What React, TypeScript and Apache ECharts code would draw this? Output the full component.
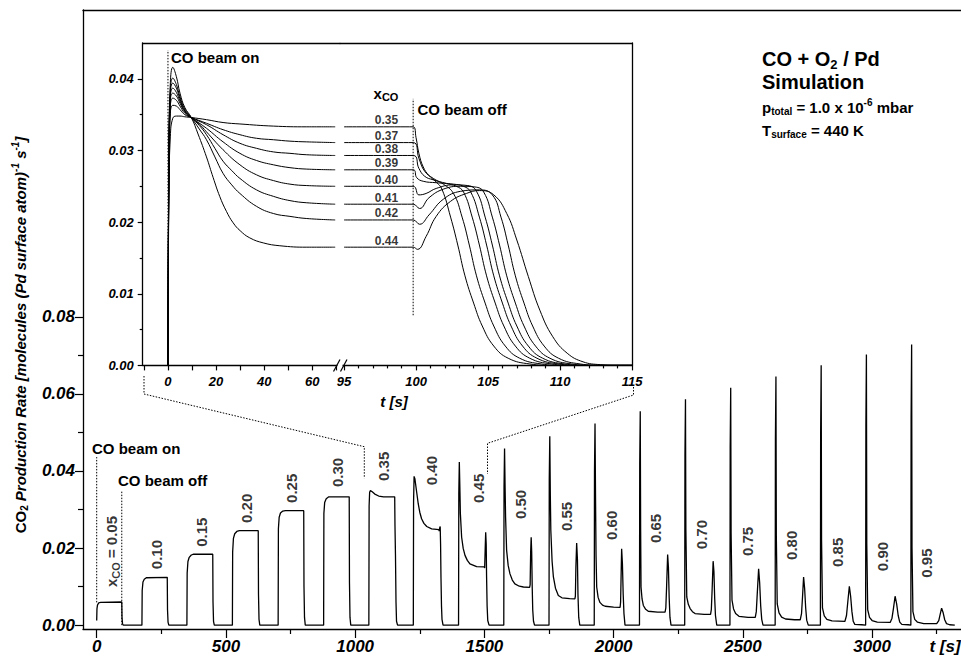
import React, { useEffect, useRef } from 'react';
import * as echarts from 'echarts';

const FONT = "'Liberation Sans', Arial, Helvetica, sans-serif";
const BLACK = '#000';

// ---------- main chart: simulated CO2 rate for successive CO pulses ----------
const mainXTicks = [0, 500, 1000, 1500, 2000, 2500, 3000];
const mainXMinor = [250, 750, 1250, 1750, 2250, 2750, 3250];
const mainYTicks = [0, 0.02, 0.04, 0.06, 0.08];
const mainYMinor = [0.01, 0.03, 0.05, 0.07];

const mainPulses: number[][][] = [
  // 0.05
  [[0, 0.0012], [1, 0.0042], [3, 0.0052], [8, 0.0058], [15, 0.0059], [97, 0.006], [98, 0.002], [100, 0.0003], [103, 0]],
  // 0.10
  [[175, 0], [176, 0.009], [179, 0.0112], [184, 0.0119], [192, 0.0123], [273, 0.0124], [274, 0.004], [276, 0.0008], [279, 0]],
  // 0.15
  [[349, 0], [350, 0.0135], [353, 0.0165], [358, 0.0176], [366, 0.0182], [375, 0.0184], [449, 0.0184], [450, 0.006], [452, 0.001], [455, 0]],
  // 0.20
  [[525, 0], [526, 0.019], [529, 0.0225], [534, 0.0237], [542, 0.0243], [552, 0.0245], [625, 0.0245], [626, 0.008], [628, 0.0015], [631, 0]],
  // 0.25
  [[702, 0], [703, 0.025], [706, 0.028], [711, 0.0291], [720, 0.0296], [730, 0.0297], [801, 0.0297], [802, 0.01], [804, 0.002], [807, 0]],
  // 0.30
  [[878, 0], [879, 0.029], [882, 0.0318], [888, 0.0328], [898, 0.0333], [977, 0.0333], [978, 0.011], [980, 0.002], [983, 0]],
  // 0.35
  [[1053, 0], [1054, 0.031], [1056, 0.0345], [1059, 0.0349], [1066, 0.0346], [1076, 0.034], [1091, 0.0335], [1110, 0.0333], [1153, 0.0333], [1154, 0.026], [1156, 0.018], [1158, 0.006], [1160, 0.001], [1164, 0]],
  // 0.40
  [[1225, 0], [1226, 0.032], [1228, 0.0386], [1231, 0.038], [1237, 0.035], [1244, 0.0315], [1250, 0.0293], [1257, 0.0276], [1266, 0.0264], [1277, 0.0256], [1296, 0.025], [1324, 0.0248], [1325, 0.0244], [1327, 0.0252], [1329, 0.0256], [1330.5, 0.021], [1332, 0.0125], [1334, 0.005], [1336, 0.0015], [1340, 0]],
  // 0.45
  [[1400, 0], [1401, 0.034], [1403, 0.0423], [1405, 0.036], [1407, 0.029], [1412, 0.0228], [1418, 0.0199], [1425, 0.0181], [1434, 0.0168], [1444, 0.0159], [1470, 0.0152], [1500, 0.0151], [1501, 0.0148], [1503, 0.0195], [1505, 0.0241], [1507, 0.021], [1508.5, 0.0125], [1510.5, 0.005], [1513, 0.0012], [1518, 0]],
  // 0.50
  [[1575, 0], [1576, 0.036], [1578, 0.0458], [1580, 0.036], [1582, 0.028], [1586, 0.0194], [1592, 0.0155], [1599, 0.0133], [1608, 0.0117], [1618, 0.0107], [1635, 0.0101], [1651, 0.0099], [1675, 0.0098], [1677, 0.0105], [1679, 0.019], [1681, 0.0228], [1683, 0.019], [1685, 0.01], [1687, 0.004], [1690, 0.001], [1694, 0]],
  // 0.55
  [[1750, 0], [1751, 0.038], [1753, 0.049], [1755, 0.034], [1757, 0.0246], [1762, 0.0165], [1767, 0.0125], [1775, 0.0096], [1786, 0.0077], [1800, 0.0071], [1830, 0.0069], [1850, 0.0068], [1852, 0.0075], [1854, 0.015], [1857, 0.0213], [1860, 0.017], [1862, 0.008], [1865, 0.002], [1869, 0]],
  // 0.60
  [[1925, 0], [1926, 0.04], [1928, 0.0523], [1930, 0.033], [1932, 0.018], [1934.5, 0.0099], [1940, 0.0072], [1947, 0.0059], [1957, 0.0052], [1967, 0.0049], [2000, 0.0047], [2025, 0.0046], [2027, 0.006], [2029, 0.013], [2031, 0.0198], [2034, 0.016], [2037, 0.008], [2040, 0.003], [2044, 0]],
  // 0.65
  [[2100, 0], [2101, 0.042], [2103, 0.0555], [2104.5, 0.025], [2106, 0.0099], [2110, 0.0068], [2115, 0.0051], [2124, 0.0041], [2134, 0.0036], [2170, 0.0034], [2199, 0.0034], [2202, 0.0045], [2205, 0.01], [2209, 0.0183], [2212, 0.015], [2215, 0.007], [2218, 0.002], [2222, 0]],
  // 0.70
  [[2275, 0], [2276, 0.044], [2278, 0.0586], [2279.5, 0.025], [2283, 0.0073], [2289, 0.0054], [2296, 0.0043], [2305, 0.0035], [2315, 0.003], [2350, 0.0028], [2375, 0.0028], [2378, 0.004], [2381, 0.009], [2385, 0.0166], [2388, 0.014], [2391, 0.007], [2394, 0.0025], [2399, 0]],
  // 0.75
  [[2450, 0], [2451, 0.046], [2453, 0.0616], [2454.5, 0.024], [2458, 0.0065], [2464, 0.0042], [2472, 0.003], [2485, 0.0023], [2520, 0.002], [2548, 0.002], [2552, 0.0035], [2556, 0.0085], [2561, 0.0146], [2565, 0.011], [2569, 0.005], [2573, 0.0015], [2578, 0]],
  // 0.80
  [[2625, 0], [2626, 0.048], [2628, 0.0645], [2629.5, 0.023], [2633, 0.0055], [2640, 0.0032], [2650, 0.0021], [2665, 0.0016], [2700, 0.0014], [2722, 0.0014], [2727, 0.003], [2731, 0.0075], [2735, 0.0125], [2739, 0.0095], [2743, 0.0045], [2747, 0.0013], [2753, 0]],
  // 0.85
  [[2800, 0], [2801, 0.05], [2803, 0.0674], [2804.5, 0.022], [2808, 0.0045], [2815, 0.0024], [2825, 0.0015], [2845, 0.0011], [2895, 0.001], [2901, 0.0025], [2906, 0.006], [2912, 0.0101], [2917, 0.0075], [2922, 0.0035], [2927, 0.001], [2933, 0.0002], [2960, 0.0001]],
  // 0.90
  [[2975, 0], [2976, 0.052], [2978, 0.0702], [2979.5, 0.021], [2983, 0.004], [2990, 0.002], [3000, 0.0012], [3020, 0.0008], [3070, 0.0007], [3077, 0.0018], [3083, 0.0045], [3089, 0.0075], [3095, 0.0055], [3101, 0.0025], [3107, 0.0008], [3115, 0.0002], [3140, 0.0001]],
  // 0.95
  [[3150, 0], [3151, 0.054], [3153, 0.0728], [3154.5, 0.02], [3158, 0.0035], [3165, 0.0015], [3175, 0.0008], [3200, 0.0004], [3250, 0.0004], [3258, 0.0012], [3264, 0.003], [3269, 0.0044], [3275, 0.0032], [3281, 0.0014], [3288, 0.0004], [3300, 0.0001], [3320, 0]],
];

const pulseLabelText = ['x_CO = 0.05', '0.10', '0.15', '0.20', '0.25', '0.30', '0.35', '0.40', '0.45', '0.50', '0.55', '0.60', '0.65', '0.70', '0.75', '0.80', '0.85', '0.90', '0.95'];
const pulseLabelT = [59, 232, 406, 580, 754, 932, 1109, 1296, 1476, 1638, 1816, 1993, 2163, 2341, 2518, 2689, 2867, 3041, 3211];
const pulseLabelV = [0.0191, 0.0183, 0.0241, 0.0303, 0.0355, 0.0396, 0.0412, 0.0401, 0.0355, 0.0313, 0.0282, 0.0259, 0.0251, 0.0235, 0.0217, 0.0207, 0.0189, 0.0178, 0.0161];

// ---------- inset: xCO = 0.35 ... 0.44 ----------
const insetXco = ['0.35', '0.37', '0.38', '0.39', '0.40', '0.41', '0.42', '0.44'];
const insetLabelT = 97.95;
const insetLabelV = [0.0333, 0.0311, 0.0293, 0.0273, 0.025, 0.0225, 0.0203, 0.0165];
const insetYTicks = [0, 0.01, 0.02, 0.03, 0.04];
const insetYMinor = [0.005, 0.015, 0.025, 0.035];
const insetLeftTicks = [-10, 0, 10, 20, 30, 40, 50, 60, 70];
const insetLeftLabels = [0, 20, 40, 60];
const insetRightTicks = [95, 100, 105, 110, 115];
const insetRightMinor = [96, 97, 98, 99, 101, 102, 103, 104, 106, 107, 108, 109, 111, 112, 113, 114];

// beam switched on (t = 0 ... 70 s)
const insetOn: number[][][] = [
  [[0, 0], [0.4, 0.024], [1, 0.032], [2, 0.0345], [3.5, 0.0348], [5, 0.0348], [7, 0.0347], [9.7, 0.0346], [16, 0.0343], [22.9, 0.0339], [29.9, 0.0337], [43.8, 0.0334], [57.7, 0.0333], [69.5, 0.0333]],
  [[0, 0], [0.4, 0.026], [1, 0.0352], [2, 0.0363], [3.5, 0.0362], [5, 0.0357], [7, 0.035], [9.7, 0.0346], [16, 0.0338], [22.9, 0.0329], [29.9, 0.0322], [36.8, 0.0317], [43.8, 0.0315], [50.7, 0.0313], [57.7, 0.0312], [69.5, 0.0311]],
  [[0, 0], [0.4, 0.027], [1, 0.0362], [2, 0.0373], [3.5, 0.037], [5, 0.0362], [7, 0.0352], [9.7, 0.0346], [16, 0.0336], [22.9, 0.0322], [29.9, 0.031], [36.8, 0.0303], [43.8, 0.0298], [50.7, 0.0296], [57.7, 0.0294], [69.5, 0.0293]],
  [[0, 0], [0.4, 0.028], [1, 0.037], [2, 0.038], [3.5, 0.0376], [5, 0.0366], [7, 0.0354], [9.7, 0.0346], [16, 0.0331], [22.9, 0.0312], [29.9, 0.0296], [36.8, 0.0286], [43.8, 0.028], [50.7, 0.0276], [57.7, 0.0274], [69.5, 0.0273]],
  [[0, 0], [0.4, 0.028], [1, 0.0375], [2, 0.0387], [3.5, 0.0381], [5, 0.0369], [7, 0.0355], [9.7, 0.0346], [13, 0.0337], [16, 0.0326], [22.9, 0.0301], [29.9, 0.028], [36.8, 0.0266], [43.8, 0.0258], [50.7, 0.0253], [57.7, 0.0251], [69.5, 0.025]],
  [[0, 0], [0.4, 0.029], [1, 0.038], [2, 0.0394], [3.5, 0.0387], [5, 0.0372], [7, 0.0356], [9.7, 0.0346], [13, 0.0335], [16, 0.0322], [19.5, 0.0303], [22.9, 0.0285], [26.5, 0.0272], [29.9, 0.0261], [36.8, 0.0245], [43.8, 0.0236], [50.7, 0.023], [57.7, 0.0227], [69.5, 0.0225]],
  [[0, 0], [0.4, 0.029], [1, 0.0385], [2, 0.0401], [3.5, 0.0392], [5, 0.0375], [7, 0.0358], [9.7, 0.0346], [13, 0.033], [16, 0.0315], [19.5, 0.0291], [22.9, 0.0268], [26.5, 0.0252], [29.9, 0.024], [36.8, 0.0222], [43.8, 0.0212], [50.7, 0.0208], [57.7, 0.0205], [69.5, 0.0203]],
  [[0, 0], [0.4, 0.03], [1, 0.0395], [2, 0.0416], [3.5, 0.0403], [5, 0.038], [7, 0.036], [9.7, 0.0346], [12.5, 0.0323], [16, 0.0291], [18.8, 0.0262], [21.5, 0.0236], [24.3, 0.0215], [27.1, 0.0199], [30, 0.0188], [34, 0.0178], [39.6, 0.0171], [46.5, 0.0167], [57.7, 0.0165], [69.5, 0.0165]],
];

// beam switched off at t = 100 s (t = 95 ... 115 s)
const insetOff: number[][][] = [
  [[95, 0.0333], [99.8, 0.0333], [100, 0.0318], [100.2, 0.0296], [100.5, 0.0277], [100.9, 0.0265], [101.4, 0.0256], [101.8, 0.0246], [102.4, 0.0207], [102.9, 0.0168], [103.4, 0.0125], [104, 0.0087], [104.6, 0.0055], [105.4, 0.0027], [106.4, 0.001], [107.9, 0.0002], [109.5, 0], [115, 0]],
  [[95, 0.0311], [99.8, 0.0311], [100.2, 0.0289], [100.6, 0.0271], [101.2, 0.0261], [101.9, 0.0253], [102.6, 0.024], [103.2, 0.0207], [103.7, 0.0168], [104.2, 0.0125], [104.8, 0.0087], [105.4, 0.0055], [106.2, 0.0027], [107.2, 0.001], [108.7, 0.0002], [110.2, 0], [115, 0]],
  [[95, 0.0293], [99.8, 0.0293], [100.2, 0.0275], [100.6, 0.0264], [101.2, 0.0259], [102.1, 0.0254], [102.8, 0.025], [103.3, 0.0242], [103.9, 0.0207], [104.4, 0.0168], [104.9, 0.0125], [105.5, 0.0087], [106.1, 0.0055], [106.9, 0.0027], [107.9, 0.001], [109.4, 0.0002], [110.9, 0], [115, 0]],
  [[95, 0.0273], [99.8, 0.0273], [100.05, 0.0262], [100.5, 0.0257], [101.4, 0.0255], [102.6, 0.0253], [103.3, 0.025], [103.8, 0.0242], [104.4, 0.0207], [104.9, 0.0168], [105.4, 0.0125], [106, 0.0087], [106.6, 0.0055], [107.4, 0.0027], [108.4, 0.001], [109.9, 0.0002], [111.4, 0], [115, 0]],
  [[95, 0.025], [99.8, 0.025], [100.2, 0.0238], [100.7, 0.024], [101.4, 0.0247], [102.6, 0.0252], [103.6, 0.0251], [104.2, 0.0243], [104.8, 0.0207], [105.3, 0.0168], [105.8, 0.0125], [106.4, 0.0087], [107, 0.0055], [107.8, 0.0027], [108.8, 0.001], [110.3, 0.0002], [111.8, 0], [115, 0]],
  [[95, 0.0225], [99.8, 0.0225], [100.25, 0.0219], [100.9, 0.0234], [101.9, 0.0246], [103.1, 0.025], [104.1, 0.0249], [104.7, 0.0242], [105.3, 0.0207], [105.8, 0.0168], [106.3, 0.0125], [106.9, 0.0087], [107.5, 0.0055], [108.3, 0.0027], [109.3, 0.001], [110.8, 0.0002], [112.3, 0], [115, 0]],
  [[95, 0.0203], [99.8, 0.0203], [100.25, 0.0197], [100.9, 0.021], [101.9, 0.0232], [103.1, 0.0243], [104.4, 0.0245], [105.3, 0.0238], [105.9, 0.0207], [106.4, 0.0168], [106.9, 0.0125], [107.5, 0.0087], [108.1, 0.0055], [108.9, 0.0027], [109.9, 0.001], [111.4, 0.0002], [112.9, 0], [115, 0]],
  [[95, 0.0165], [99.8, 0.0165], [100.1, 0.0162], [100.7, 0.018], [101.4, 0.0208], [102.4, 0.0229], [103.5, 0.024], [104.4, 0.0244], [105.4, 0.0238], [106.3, 0.0212], [107, 0.0175], [107.8, 0.0124], [108.6, 0.0077], [109.5, 0.004], [110.5, 0.0017], [111.6, 0.0005], [112.8, 0.0001], [114, 0], [115, 0]],
];

// ---------- option ----------
const axLine = { color: BLACK, width: 1.3 };
const tickLine = { color: BLACK, width: 1.2 };
const lab = (size: number) => ({ color: BLACK, fontSize: size, fontWeight: 'bold', fontStyle: 'italic', fontFamily: FONT });

function lineOnlyAxis(gridIndex: number, position: string, min: number, max: number) {
  return {
    type: 'value', gridIndex, position, min, max,
    axisLine: { show: true, onZero: false, lineStyle: axLine },
    axisTick: { show: false }, axisLabel: { show: false }, splitLine: { show: false },
  };
}
function tickOnlyAxis(gridIndex: number, position: string, min: number, max: number, values: number[], length: number) {
  return {
    type: 'value', gridIndex, position, min, max,
    axisLine: { show: false, onZero: false },
    axisTick: { show: true, customValues: values, length, lineStyle: tickLine },
    axisLabel: { show: false }, splitLine: { show: false },
  };
}

const txt = (x: number, y: number, text: string, extra: any = {}) => ({
  type: 'text', x, y, z: 50, silent: true,
  style: { text, fill: BLACK, fontSize: 15, fontWeight: 'bold', fontFamily: FONT, verticalAlign: 'middle', align: 'left', ...extra },
});

function buildOption() {
  const MX0 = -53, MX1 = 3344, MY0 = -0.001, MY1 = 0.1596;
  const IL0 = -10.5, IL1 = 71.5, IR0 = 94.72, IR1 = 115, IY0 = 0, IY1 = 0.045;

  const insetLabelData = insetXco.map((s, i) => ({ value: [insetLabelT, insetLabelV[i]], name: s }));
  const pulseLabelData = pulseLabelText.map((s, i) => ({ value: [pulseLabelT[i], pulseLabelV[i]], name: s }));

  const subRich = (size: number, sub: number, italic: boolean) => ({
    n: { fontSize: size, fontWeight: 'bold', fontStyle: italic ? 'italic' : 'normal', fontFamily: FONT, lineHeight: size + 4, verticalAlign: 'middle', fill: BLACK, color: BLACK },
    s: { fontSize: sub, fontWeight: 'bold', fontStyle: italic ? 'italic' : 'normal', fontFamily: FONT, lineHeight: sub + 1, verticalAlign: 'bottom', fill: BLACK, color: BLACK },
    p: { fontSize: sub, fontWeight: 'bold', fontStyle: italic ? 'italic' : 'normal', fontFamily: FONT, lineHeight: sub + 1, verticalAlign: 'top', fill: BLACK, color: BLACK },
  });

  const yTitleRich = {
    u: { fontSize: 15, fontWeight: 'bold', fontFamily: FONT, lineHeight: 19, verticalAlign: 'middle', fill: BLACK },
    us: { fontSize: 10, fontWeight: 'bold', fontFamily: FONT, lineHeight: 11, verticalAlign: 'bottom', fill: BLACK },
    i: { fontSize: 15, fontWeight: 'bold', fontStyle: 'italic', fontFamily: FONT, lineHeight: 19, verticalAlign: 'middle', fill: BLACK },
    ip: { fontSize: 10, fontWeight: 'bold', fontStyle: 'italic', fontFamily: FONT, lineHeight: 11, verticalAlign: 'top', fill: BLACK },
  };

  const dotted = { stroke: BLACK, lineWidth: 1, lineDash: [1.5, 1.5], fill: null };

  return {
    animation: false,
    backgroundColor: '#fff',
    grid: [
      { left: 83, right: 0, top: 10, bottom: 33 },
      { left: 142.7, top: 43, width: 197.3, height: 322.4 },
      { left: 340, top: 43, width: 292, height: 322.4 },
    ],
    xAxis: [
      {
        type: 'value', gridIndex: 0, position: 'bottom', min: MX0, max: MX1,
        axisLine: { show: true, onZero: false, lineStyle: axLine },
        axisTick: { show: true, customValues: mainXTicks, length: 9, lineStyle: tickLine },
        axisLabel: { show: true, customValues: mainXTicks, margin: 9, ...lab(17), formatter: (v: number) => String(v) },
        splitLine: { show: false },
      },
      tickOnlyAxis(0, 'bottom', MX0, MX1, mainXMinor, 5),
      lineOnlyAxis(0, 'top', MX0, MX1),
      {
        type: 'value', gridIndex: 1, position: 'bottom', min: IL0, max: IL1,
        axisLine: { show: true, onZero: false, lineStyle: axLine },
        axisTick: { show: true, customValues: insetLeftTicks, length: 5, lineStyle: tickLine },
        axisLabel: { show: true, customValues: insetLeftLabels, margin: 10, ...lab(13), formatter: (v: number) => String(v) },
        splitLine: { show: false },
      },
      lineOnlyAxis(1, 'top', IL0, IL1),
      {
        type: 'value', gridIndex: 2, position: 'bottom', min: IR0, max: IR1,
        axisLine: { show: true, onZero: false, lineStyle: axLine },
        axisTick: { show: true, customValues: insetRightTicks, length: 5, lineStyle: tickLine },
        axisLabel: { show: true, customValues: insetRightTicks, margin: 10, ...lab(13), formatter: (v: number) => String(v) },
        splitLine: { show: false },
      },
      tickOnlyAxis(2, 'bottom', IR0, IR1, insetRightMinor, 3),
      lineOnlyAxis(2, 'top', IR0, IR1),
    ],
    yAxis: [
      {
        type: 'value', gridIndex: 0, position: 'left', min: MY0, max: MY1,
        axisLine: { show: true, onZero: false, lineStyle: axLine },
        axisTick: { show: true, customValues: mainYTicks, length: 8, lineStyle: tickLine },
        axisLabel: { show: true, customValues: mainYTicks, margin: 8, ...lab(17), formatter: (v: number) => v.toFixed(2) },
        splitLine: { show: false },
      },
      tickOnlyAxis(0, 'left', MY0, MY1, mainYMinor, 5),
      {
        type: 'value', gridIndex: 1, position: 'left', min: IY0, max: IY1,
        axisLine: { show: true, onZero: false, lineStyle: axLine },
        axisTick: { show: true, customValues: insetYTicks, length: 5, lineStyle: tickLine },
        axisLabel: { show: true, customValues: insetYTicks, margin: 9, ...lab(13), formatter: (v: number) => v.toFixed(2) },
        splitLine: { show: false },
      },
      tickOnlyAxis(1, 'left', IY0, IY1, insetYMinor, 3),
      lineOnlyAxis(2, 'right', IY0, IY1),
    ],
    series: [
      {
        type: 'line', name: 'main', xAxisIndex: 0, yAxisIndex: 0,
        data: mainPulses.flat(), symbol: 'none', smooth: false, silent: true,
        lineStyle: { color: BLACK, width: 1.3 },
      },
      // dotted beam markers, main chart
      { type: 'line', xAxisIndex: 0, yAxisIndex: 0, data: [[0, 0.0059], [0, 0.0436]], symbol: 'none', silent: true, lineStyle: { color: BLACK, width: 1, type: [1.5, 1.5] } },
      { type: 'line', xAxisIndex: 0, yAxisIndex: 0, data: [[97, 0.0], [97, 0.035]], symbol: 'none', silent: true, lineStyle: { color: BLACK, width: 1, type: [1.5, 1.5] } },
      {
        type: 'scatter', xAxisIndex: 0, yAxisIndex: 0, data: pulseLabelData, symbolSize: 1, silent: true,
        itemStyle: { color: 'rgba(0,0,0,0)' },
        label: {
          show: true, position: 'inside', rotate: 90,
          formatter: (p: any) => p.name.startsWith('x_CO') ? '{n|x}{s|CO}{n| = 0.05}' : '{n|' + p.name + '}',
          rich: subRich(15, 11, false),
        },
      },
      ...insetOn.map((d, i) => ({
        type: 'line', name: 'on ' + insetXco[i], xAxisIndex: 3, yAxisIndex: 2, data: d, symbol: 'none', silent: true,
        smooth: 0.45, lineStyle: { color: BLACK, width: 1 },
      })),
      ...insetOff.map((d, i) => ({
        type: 'line', name: 'off ' + insetXco[i], xAxisIndex: 5, yAxisIndex: 4, data: d, symbol: 'none', silent: true,
        smooth: 0.45, lineStyle: { color: BLACK, width: 1 },
      })),
      { type: 'line', xAxisIndex: 3, yAxisIndex: 2, data: [[0, 0], [0, 0.044]], symbol: 'none', silent: true, lineStyle: { color: BLACK, width: 1, type: [1.5, 1.5] } },
      { type: 'line', xAxisIndex: 5, yAxisIndex: 4, data: [[99.8, 0.007], [99.8, 0.0372]], symbol: 'none', silent: true, lineStyle: { color: BLACK, width: 1, type: [1.5, 1.5] } },
      {
        type: 'scatter', xAxisIndex: 5, yAxisIndex: 4, data: insetLabelData, symbolSize: 1, silent: true,
        itemStyle: { color: 'rgba(0,0,0,0)' },
        label: { show: true, position: 'top', distance: 0, formatter: (p: any) => p.name, color: BLACK, fontSize: 12, lineHeight: 12, fontWeight: 'bold', fontFamily: FONT },
      },
    ],
    graphic: [
      // main annotations
      txt(92, 448, 'CO beam on'),
      txt(118, 480, 'CO beam off'),
      // inset annotations
      txt(171, 57.5, 'CO beam on'),
      txt(417.5, 109, 'CO beam off'),
      { type: 'text', x: 386, y: 93, z: 50, silent: true, style: { text: '{n|x}{s|CO}', align: 'center', verticalAlign: 'middle', fill: BLACK, rich: subRich(15, 11, false) } },
      txt(394, 401, 't [s]', { align: 'center', fontStyle: 'italic' }),
      txt(945, 646, 't [s]', { align: 'center', fontStyle: 'italic', fontSize: 17 }),
      // info block
      { type: 'text', x: 762, y: 59, z: 50, silent: true, style: { text: '{n|CO + O}{s|2}{n| / Pd}', verticalAlign: 'middle', fill: BLACK, rich: subRich(20, 13, false) } },
      txt(762, 82, 'Simulation', { fontSize: 20 }),
      { type: 'text', x: 762, y: 107, z: 50, silent: true, style: { text: '{n|p}{s|total}{n| = 1.0 x 10}{p|-6}{n| mbar}', verticalAlign: 'middle', fill: BLACK, rich: subRich(15, 10, false) } },
      { type: 'text', x: 762, y: 130, z: 50, silent: true, style: { text: '{n|T}{s|surface}{n| = 440 K}', verticalAlign: 'middle', fill: BLACK, rich: subRich(15, 10, false) } },
      // y-axis title
      {
        type: 'text', x: 20, y: 335, rotation: Math.PI / 2, z: 50, silent: true,
        style: {
          text: '{u|CO}{us|2}{i| Production Rate [molecules (Pd surface atom)}{ip|-1}{i| s}{ip|-1}{i|]}',
          align: 'center', verticalAlign: 'middle', fill: BLACK, rich: yTitleRich,
        },
      },
      // zoom connectors
      { type: 'polyline', z: 40, silent: true, shape: { points: [[144, 376], [144, 394], [364.3, 446.7], [364.3, 478.3]] }, style: dotted },
      { type: 'polyline', z: 40, silent: true, shape: { points: [[633.5, 387], [633.5, 395], [487.5, 443.3], [487.5, 474]] }, style: dotted },
      // axis break
      { type: 'rect', z: 60, silent: true, shape: { x: 337.5, y: 361, width: 5, height: 8 }, style: { fill: '#fff' } },
      { type: 'line', z: 61, silent: true, shape: { x1: 333.5, y1: 371.5, x2: 340, y2: 359.5 }, style: { stroke: BLACK, lineWidth: 1.2 } },
      { type: 'line', z: 61, silent: true, shape: { x1: 340.5, y1: 371.5, x2: 347, y2: 359.5 }, style: { stroke: BLACK, lineWidth: 1.2 } },
    ],
  };
}

export default function App() {
  const ref = useRef<HTMLDivElement>(null);
  useEffect(() => {
    const chart = echarts.init(ref.current as HTMLDivElement, undefined, { renderer: 'svg' });
    chart.setOption(buildOption() as any);
    return () => chart.dispose();
  }, []);
  return (
    <div
      ref={ref}
      style={{ position: 'fixed', left: 0, top: 0, width: 961, height: 662, background: '#fff' }}
    />
  );
}
